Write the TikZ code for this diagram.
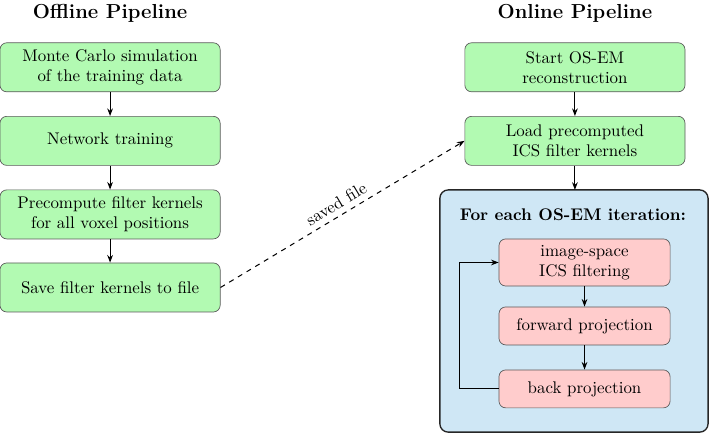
\documentclass[tikz,border=0pt]{standalone}
\usepackage{amsmath}
\usetikzlibrary{arrows.meta}
\usetikzlibrary{positioning}

\definecolor{stepgreen}{RGB}{178,250,178}
\definecolor{steppink}{RGB}{255,204,204}
\definecolor{loopblue}{RGB}{207,231,245}

\tikzset{
    stage/.style={draw=black!65, fill=stepgreen, rounded corners=4pt,
        minimum width=4.58cm, minimum height=1.02cm, align=center,
        inner sep=2pt},
    substage/.style={draw=black!65, fill=steppink, rounded corners=4pt,
        minimum width=3.56cm, minimum height=0.79cm, align=center,
        inner sep=2pt},
    flow/.style={-{Stealth[length=4.5pt]}, semithick},
    heading/.style={font=\large\bfseries}
}

\begin{document}
\begin{tikzpicture}
    \useasboundingbox (0,0) rectangle (14.77,-9.05);

    % Offline side
    \node[heading] (offtitle) at (2.29,-0.27) {Offline Pipeline};
    \node[stage] (mc) at (2.29,-1.40) {Monte Carlo simulation\\of the training data};
    \node[stage] (train) at (2.29,-2.93) {Network training};
    \node[stage] (precomp) at (2.29,-4.46) {Precompute filter kernels\\for all voxel positions};
    \node[stage] (save) at (2.29,-5.98) {Save filter kernels to file};

    \draw[flow] (mc) -- (train);
    \draw[flow] (train) -- (precomp);
    \draw[flow] (precomp) -- (save);

    % Online side
    \node[heading] (ontitle) at (11.96,-0.27) {Online Pipeline};
    \node[stage] (start) at (11.96,-1.40) {Start OS-EM\\reconstruction};
    \node[stage] (load) at (11.96,-2.93) {Load precomputed\\ICS filter kernels};

    % Iteration block
    \draw[fill=loopblue, draw=black!85, thick, rounded corners=5pt]
        (9.15,-3.95) rectangle (14.73,-8.99);
    \coordinate (looptop) at (11.96,-3.95);
    \node[font=\bfseries] (looptitle) at (11.92,-4.47) {For each OS-EM iteration:};

    \node[substage, minimum height=0.98cm] (filt) at (12.16,-5.46) {image-space\\ICS filtering};
    \node[substage] (fwd) at (12.16,-6.78) {forward projection};
    \node[substage] (back) at (12.16,-8.09) {back projection};

    \draw[flow] (start) -- (load);
    \draw[flow] (load) -- (looptop);
    \draw[flow] (filt) -- (fwd);
    \draw[flow] (fwd) -- (back);
    \draw[flow] (back.west) -- ++(-0.82,0) |- (filt.west);

    % Hand-over between the two pipelines
    \draw[flow, dashed] (save.east) -- (load.west)
        node[midway, above, sloped] {saved file};
\end{tikzpicture}
\end{document}
